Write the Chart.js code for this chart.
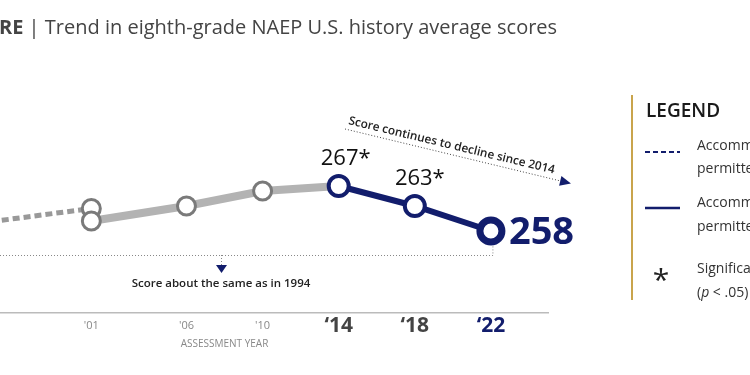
<!DOCTYPE html>
<html><head><meta charset="utf-8">
<script src="https://cdn.jsdelivr.net/npm/chart.js@4/dist/chart.umd.min.js"></script>
<style>html,body{margin:0;padding:0;background:#fff}#wrap{width:750px;height:375px;position:relative}</style>
</head><body><div id="wrap"><canvas id="c" width="750" height="375"></canvas></div>
<script>
// ---- data ----
const notPermittedYears = [1994, 2001];
const notPermittedScores = [259, 262.5];
const permittedGrayYears = [2001, 2006, 2010, 2014];
const permittedGrayScores = [260, 263, 266, 267];
const recentYears = [2014, 2018, 2022];
const recentScores = [267, 263, 258];
const recentLabels = ['267*', '263*', '258'];
const tickYears = [2001, 2006, 2010, 2014, 2018, 2022];
const tickLabels = ["'01", "'06", "'10", "\u201814", "\u201818", "\u201822"];
const titleText = 'Trend in eighth-grade NAEP U.S. history average scores';
const legendItems = [
  ['Accommodations not', 'permitted'],
  ['Accommodations', 'permitted'],
  ['Significantly different', '(p < .05) from 2022']
];

const NAVY = '#121d6c';
const FONT = "'Open Sans', 'Noto Sans', sans-serif";
const pts = (xs, ys) => xs.map((x, i) => ({x, y: ys[i]}));

const overlay = {
  id: 'overlay',
  afterDraw(chart) {
    const ctx = chart.ctx, xs = chart.scales.x, ys = chart.scales.y;
    const X = v => xs.getPixelForValue(v), Y = v => ys.getPixelForValue(v);
    ctx.save();
    // title
    ctx.textBaseline = 'alphabetic';
    ctx.fillStyle = '#444';
    ctx.font = 'bold 20px ' + FONT;
    ctx.fillText('RE', -1, 34);
    let w = ctx.measureText('RE').width;
    ctx.font = '20px ' + FONT;
    ctx.fillText(' | ' + titleText, -1 + w, 34);

    // value labels
    ctx.fillStyle = '#111';
    ctx.font = '22px ' + FONT;
    ctx.textAlign = 'center';
    ctx.fillText(recentLabels[0], X(recentYears[0]) + 7, Y(recentScores[0]) - 21);
    ctx.fillText(recentLabels[1], X(recentYears[1]) + 5, Y(recentScores[1]) - 21);
    ctx.textAlign = 'left';
    ctx.fillStyle = NAVY;
    ctx.font = 'bold 38px ' + FONT;
    ctx.fillText(recentLabels[2], X(recentYears[2]) + 18, Y(recentScores[2]) + 13);

    // dotted bracket
    const yb = Y(recentScores[2]) + 24;
    const x22 = X(recentYears[2]) + 2;
    ctx.strokeStyle = '#888';
    ctx.lineWidth = 1;
    ctx.setLineDash([1, 2]);
    ctx.beginPath();
    ctx.moveTo(0, yb + 0.5); ctx.lineTo(x22, yb + 0.5);
    ctx.lineTo(x22, Y(recentScores[2]) + 14);
    ctx.stroke();
    // down arrow
    const xm = Math.round(X(2008) - 4);
    ctx.beginPath();
    ctx.moveTo(xm + 0.5, yb); ctx.lineTo(xm + 0.5, yb + 11);
    ctx.stroke();
    ctx.setLineDash([]);
    ctx.fillStyle = NAVY;
    ctx.beginPath();
    ctx.moveTo(xm - 5, yb + 10); ctx.lineTo(xm + 6, yb + 10); ctx.lineTo(xm + 0.5, yb + 18); ctx.closePath();
    ctx.fill();
    ctx.fillStyle = '#222';
    ctx.font = '600 11.5px ' + FONT;
    ctx.textAlign = 'center';
    ctx.fillText('Score about the same as in 1994', xm, yb + 32);

    // angled arrow
    const ax0 = 345, ay0 = 129, ax1 = 569, ay1 = 183;
    const ang = Math.atan2(ay1 - ay0, ax1 - ax0);
    ctx.strokeStyle = '#444';
    ctx.setLineDash([1, 2]);
    ctx.beginPath(); ctx.moveTo(ax0, ay0); ctx.lineTo(ax1 - 6 * Math.cos(ang), ay1 - 6 * Math.sin(ang)); ctx.stroke();
    ctx.setLineDash([]);
    ctx.save();
    ctx.translate(ax1, ay1); ctx.rotate(ang);
    ctx.fillStyle = NAVY;
    ctx.beginPath(); ctx.moveTo(2, 0); ctx.lineTo(-9, -5); ctx.lineTo(-9, 5); ctx.closePath(); ctx.fill();
    ctx.restore();
    ctx.save();
    ctx.translate(ax0 + 3, ay0 - 5); ctx.rotate(ang);
    ctx.fillStyle = '#222';
    ctx.font = '600 11.8px ' + FONT;
    ctx.textAlign = 'left';
    ctx.fillText('Score continues to decline since 2014', 0, 0);
    ctx.restore();

    // x axis title
    ctx.fillStyle = '#888';
    ctx.font = '10px ' + FONT;
    ctx.textAlign = 'center';
    ctx.fillText('ASSESSMENT YEAR', X(2008), 347);

    // legend
    ctx.strokeStyle = '#c9a44c';
    ctx.lineWidth = 2;
    ctx.beginPath(); ctx.moveTo(632, 95); ctx.lineTo(632, 300); ctx.stroke();
    ctx.textAlign = 'left';
    ctx.fillStyle = '#1a1a1a';
    ctx.font = '600 19px ' + FONT;
    ctx.fillText('LEGEND', 646, 117);
    ctx.strokeStyle = NAVY;
    ctx.lineWidth = 2;
    ctx.setLineDash([5, 3]);
    ctx.beginPath(); ctx.moveTo(645, 152); ctx.lineTo(680, 152); ctx.stroke();
    ctx.setLineDash([]);
    ctx.lineWidth = 2.5;
    ctx.beginPath(); ctx.moveTo(645, 208); ctx.lineTo(680, 208); ctx.stroke();
    ctx.fillStyle = '#222';
    ctx.font = '30px ' + FONT;
    ctx.textAlign = 'center';
    ctx.fillText('*', 661, 290);
    ctx.textAlign = 'left';
    ctx.fillStyle = '#333';
    ctx.font = '14px ' + FONT;
    const ly = [[150, 173], [207, 231], [273, 297]];
    legendItems.forEach((it, i) => {
      ctx.fillText(it[0], 697, ly[i][0]);
      if (i === 2) {
        ctx.fillText('(', 697, ly[i][1]);
        const pw = ctx.measureText('(').width;
        ctx.font = 'italic 14px ' + FONT;
        ctx.fillText('p', 697 + pw, ly[i][1]);
        const pw2 = ctx.measureText('p').width;
        ctx.font = '14px ' + FONT;
        ctx.fillText(' < .05) from 2022', 697 + pw + pw2, ly[i][1]);
      } else {
        ctx.fillText(it[1], 697, ly[i][1]);
      }
    });
    ctx.restore();
  }
};

new Chart(document.getElementById('c'), {
  type: 'line',
  data: {
    datasets: [
      {
        data: pts(recentYears, recentScores),
        borderColor: NAVY, borderWidth: 6,
        pointRadius: [10, 10, 11], pointBorderWidth: [4, 4, 7],
        pointBackgroundColor: '#fff', pointBorderColor: NAVY
      },
      {
        data: pts(permittedGrayYears, permittedGrayScores),
        borderColor: '#b3b3b3', borderWidth: 8,
        pointRadius: 9, pointBorderWidth: 3,
        pointBackgroundColor: '#fff', pointBorderColor: '#7a7a7a'
      },
      {
        data: pts(notPermittedYears, notPermittedScores),
        borderColor: '#999', borderWidth: 5, borderDash: [7, 4],
        pointRadius: 9, pointBorderWidth: 3,
        pointBackgroundColor: '#fff', pointBorderColor: '#7a7a7a'
      }
    ]
  },
  options: {
    responsive: false, animation: false,
    layout: { autoPadding: false, padding: { left: 0, right: 202, top: 60, bottom: 0 } },
    plugins: { legend: { display: false }, tooltip: { enabled: false } },
    scales: {
      x: {
        type: 'linear', min: 1996.2, max: 2025.0,
        grid: { display: false, drawTicks: false },
        border: { display: true, color: '#bbb', width: 1.5 },
        afterBuildTicks: s => { s.ticks = tickYears.map(v => ({ value: v })); },
        afterFit: s => { s.height = 62; },
        ticks: {
          autoSkip: false, maxRotation: 0, padding: 1,
          callback: v => tickLabels[tickYears.indexOf(v)],
          font: c => {
            const v = c.tick && c.tick.value;
            if (v >= 2014) return { family: FONT, size: 21, weight: 'bold', lineHeight: '24px' };
            return { family: FONT, size: 11, lineHeight: '24px' };
          },
          color: c => {
            const v = c.tick && c.tick.value;
            if (v === 2022) return NAVY;
            if (v >= 2014) return '#444';
            return '#888';
          }
        }
      },
      y: { display: false, min: 241.6, max: 292.2 }
    }
  },
  plugins: [overlay]
});
</script></body></html>
